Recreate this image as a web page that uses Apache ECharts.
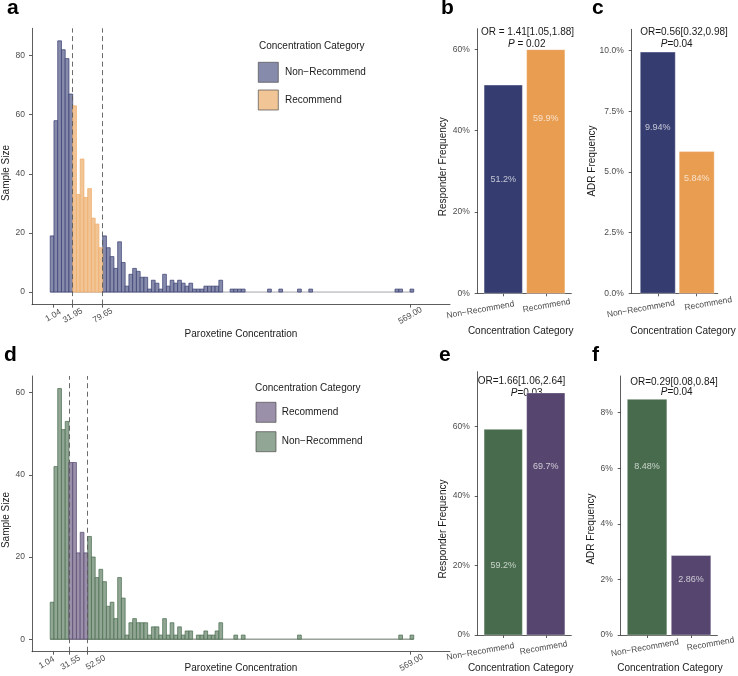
<!DOCTYPE html>
<html><head><meta charset="utf-8">
<script src="https://cdn.jsdelivr.net/npm/echarts@6/dist/echarts.min.js"></script>
<style>html,body{margin:0;padding:0;background:#fff}#c{width:738px;height:676px}</style>
</head><body><div id="c"></div>
<script>
// ---------------- data ----------------
const binStart = -3.825;       // left edge of first histogram bin (concentration units)
const binWidth = 5.9625;       // histogram bin width
const countsA = [
  19,58,85,82,79,67,63,33,45,32,
  35,25,23,15,19,15,12,8,17,10,
  2,6,8,7,5,5,1,4,3,1,
  6,2,4,3,4,3,2,3,1,1,
  1,2,2,2,2,4,0,0,1,1,
  1,1,0,0,0,0,0,0,1,0,
  0,1,0,0,0,0,1,0,0,1,
  0,0,0,0,0,0,0,0,0,0,
  0,0,0,0,0,0,0,0,0,0,
  0,0,1,1,0,0,1
];
const recBinsA = [6, 13];                 // bins in the "Recommend" range
const cutsA = [31.95, 79.65];
const ticksA = [1.04, 31.95, 79.65, 569.00];
const tickLabelPosA = [1.04, 31.95, 79.65, 569.00];
const tickLabelsA = ['1.04', '31.95', '79.65', '569.00'];

const countsD = [
  9,42,61,51,53,43,43,21,26,21,
  25,20,15,17,14,8,9,5,15,10,
  1,4,5,4,4,4,1,3,3,1,
  5,1,4,1,3,1,2,2,0,1,
  1,2,1,1,2,4,0,0,0,1,
  0,1,0,0,0,0,0,0,0,0,
  0,0,0,0,0,0,1,0,0,0,
  0,0,0,0,0,0,0,0,0,0,
  0,0,0,0,0,0,0,0,0,0,
  0,0,0,1,0,0,1
];
const recBinsD = [5, 9];
const cutsD = [26.0, 55.8];               // drawn positions of the two cut lines
const ticksD = [1.04, 26.0, 55.8, 569.00];
const tickLabelPosD = [-9.5, 28.5, 68.5, 571.0]; // where the tick texts sit in the picture
const tickLabelsD = ['1.04', '31.55', '52.50', '569.00'];

const categories = ['Non\u2212Recommend', 'Recommend'];
const respB = [51.2, 59.9];  const respBLabelAt = [27.9, 42.9];
const adrC  = [9.94, 5.84];  const adrCLabelAt  = [6.82, 4.71];
const respE = [59.2, 69.7];  const respELabelAt = [20.0, 48.5];
const adrF  = [8.48, 2.86];  const adrFLabelAt  = [6.08, 2.0];

// ---------------- style ----------------
const FONT = 'Arial, Liberation Sans, sans-serif';
const NAVY = '#353c70', ORANGE = '#e99d51', GREEN = '#476b4c', PURPLE = '#56466f';
const NAVY_F = '#878bab', ORANGE_F = '#f2c597', GREEN_F = '#91a694', PURPLE_F = '#9a90a9';
const AX = '#333333', TL = '#4d4d4d';
const HX_MIN = -32.8, HX_MAX = 632.2;

const chart = echarts.init(document.getElementById('c'));

function histData(counts, range, wantRec) {
  const out = [];
  counts.forEach((c, i) => {
    const isRec = i >= range[0] && i <= range[1];
    if (isRec === wantRec && c > 0) out.push([binStart + i * binWidth, binStart + (i + 1) * binWidth, c]);
  });
  return out;
}
function rectRender(fill, stroke) {
  return function (params, api) {
    const p0 = api.coord([api.value(0), api.value(2)]);
    const p1 = api.coord([api.value(1), 0]);
    return { type: 'rect', shape: { x: p0[0], y: p0[1], width: p1[0] - p0[0], height: p1[1] - p0[1] },
      style: { fill: fill, stroke: stroke, lineWidth: 0.7 } };
  };
}
function barRender(colors) {
  return function (params, api) {
    const x = api.value(0), y = api.value(1);
    const p0 = api.coord([x - 0.45, y]);
    const p1 = api.coord([x + 0.45, 0]);
    return { type: 'rect', shape: { x: p0[0], y: p0[1], width: p1[0] - p0[0], height: p1[1] - p0[1] },
      style: { fill: colors[params.dataIndex], stroke: 'rgba(255,255,255,0.6)', lineWidth: 0.6 } };
  };
}

const grids = [
  { left: 32, top: 28.3, width: 418, height: 276.3 },      // a
  { left: 477.7, top: 28.7, width: 93.6, height: 264.6 },  // b
  { left: 631.7, top: 29.3, width: 86, height: 264 },      // c
  { left: 32, top: 376, width: 418, height: 275.7 },       // d
  { left: 477.7, top: 371.7, width: 93.6, height: 263.3 }, // e
  { left: 620.7, top: 376, width: 97.3, height: 259 }      // f
];

// axis that draws line + ticks only
function histXLine(gi, ticks) {
  return { type: 'value', gridIndex: gi, min: HX_MIN, max: HX_MAX, position: 'bottom',
    axisLine: { show: true, onZero: false, lineStyle: { color: AX, width: 0.8 } },
    axisTick: { show: true, customValues: ticks, length: 3, lineStyle: { color: AX, width: 0.8 } },
    axisLabel: { show: false }, splitLine: { show: false } };
}
// axis that draws a subset of the tick texts (two layers avoid automatic hiding)
function histXText(gi, pos, labels, idx) {
  const lv = idx.map(i => pos[i]);
  return { type: 'value', gridIndex: gi, min: HX_MIN, max: HX_MAX, position: 'bottom',
    axisLine: { show: false }, axisTick: { show: false },
    axisLabel: { customValues: lv, formatter: v => labels[pos.indexOf(v)], rotate: 30, hideOverlap: false,
      align: 'center', verticalAlign: 'middle', margin: 11, fontSize: 8.5, color: TL, fontFamily: FONT },
    splitLine: { show: false } };
}
function histY(gi, min, max, ticks) {
  return { type: 'value', gridIndex: gi, min: min, max: max,
    axisLine: { show: true, onZero: false, lineStyle: { color: AX, width: 0.8 } },
    axisTick: { show: true, customValues: ticks, length: 3, lineStyle: { color: AX, width: 0.8 } },
    axisLabel: { customValues: ticks, margin: 7, fontSize: 8.5, color: TL, fontFamily: FONT },
    splitLine: { show: false } };
}
function catX(gi, min, max, shifts) {
  const pad = s => s < 0 ? [0, -2 * s, 0, 0] : [0, 0, 0, 2 * s];
  return { type: 'value', gridIndex: gi, min: min, max: max,
    axisLine: { show: true, onZero: false, lineStyle: { color: AX, width: 0.8 } },
    axisTick: { show: true, customValues: [1, 2], length: 3, lineStyle: { color: AX, width: 0.8 } },
    axisLabel: { customValues: [1, 2], rotate: 10, align: 'center', verticalAlign: 'top', margin: 8, hideOverlap: false,
      formatter: v => '{s' + (v - 1) + '|' + categories[v - 1] + '}',
      rich: {
        s0: { fontSize: 8.5, color: TL, fontFamily: FONT, padding: pad(shifts[0]) },
        s1: { fontSize: 8.5, color: TL, fontFamily: FONT, padding: pad(shifts[1]) }
      } },
    splitLine: { show: false } };
}
function pctY(gi, max, ticks, fmt) {
  return { type: 'value', gridIndex: gi, min: 0, max: max,
    axisLine: { show: true, lineStyle: { color: AX, width: 0.8 } },
    axisTick: { show: true, customValues: ticks, length: 3, lineStyle: { color: AX, width: 0.8 } },
    axisLabel: { customValues: ticks, formatter: fmt, margin: 8, fontSize: 8.5, color: TL, fontFamily: FONT },
    splitLine: { show: false } };
}

function histSeries(gi, counts, rec, cuts, nonF, nonS, recF, recS, baseColor) {
  return [
    { type: 'line', xAxisIndex: gi, yAxisIndex: gi, data: [[binStart, 0], [binStart + counts.length * binWidth, 0]],
      symbol: 'none', lineStyle: { color: baseColor, width: 0.8 }, silent: true, z: 1,
      markLine: { silent: true, symbol: 'none', label: { show: false },
        lineStyle: { color: '#5a5a5a', type: [5, 3.5], width: 0.9 },
        data: cuts.map(c => ({ xAxis: c })) } },
    { type: 'custom', xAxisIndex: gi, yAxisIndex: gi, renderItem: rectRender(nonF, nonS),
      data: histData(counts, rec, false), encode: { x: [0, 1], y: 2 }, z: 2 },
    { type: 'custom', xAxisIndex: gi, yAxisIndex: gi, renderItem: rectRender(recF, recS),
      data: histData(counts, rec, true), encode: { x: [0, 1], y: 2 }, z: 2 }
  ];
}
function barSeries(gi, vals, labelAt, colors) {
  return [
    { type: 'custom', xAxisIndex: gi, yAxisIndex: gi, renderItem: barRender(colors),
      data: vals.map((v, i) => [i + 1, v]), encode: { x: 0, y: 1 } },
    { type: 'scatter', xAxisIndex: gi, yAxisIndex: gi, symbolSize: 0, silent: true, z: 5,
      data: labelAt.map((v, i) => [i + 1, v]),
      label: { show: true, position: 'inside', formatter: p => vals[p.dataIndex] + '%',
        color: 'rgba(255,255,255,0.88)', fontSize: 9, fontFamily: FONT } }
  ];
}

function txt(x, y, text, o) {
  o = o || {};
  return { type: 'text', x: x, y: y, rotation: o.rot || 0, silent: true,
    style: { text: text, fill: o.color || '#1a1a1a', fontSize: o.size || 10, fontWeight: o.weight || 'normal',
      fontFamily: FONT, textAlign: o.align || 'center', textVerticalAlign: o.va || 'middle' } };
}
// annotation: plain part + optional italic "P"
function note(x, y, italicPart, rest) {
  const rich = {
    n: { fontSize: 10, fontFamily: FONT, fill: '#1a1a1a', fontStyle: 'normal', fontWeight: 'normal' },
    i: { fontSize: 10, fontFamily: FONT, fill: '#1a1a1a', fontStyle: 'italic', fontWeight: 'normal' }
  };
  const t = (italicPart ? '{i|' + italicPart + '}' : '') + '{n|' + rest + '}';
  return { type: 'text', x: x, y: y, silent: true,
    style: { text: t, textAlign: 'center', textVerticalAlign: 'middle', fontSize: 10, fontFamily: FONT, fill: '#1a1a1a', rich: rich } };
}
function key(x, y, fill) {
  return { type: 'rect', shape: { x: x, y: y, width: 20, height: 20 }, silent: true,
    style: { fill: fill, stroke: '#4d4d4d', lineWidth: 0.7 } };
}

const graphics = [
  // panel letters
  txt(7, 19, 'a', { size: 21, weight: 'bold', align: 'left', va: 'bottom', color: '#000' }),
  txt(441, 19, 'b', { size: 21, weight: 'bold', align: 'left', va: 'bottom', color: '#000' }),
  txt(592, 19, 'c', { size: 21, weight: 'bold', align: 'left', va: 'bottom', color: '#000' }),
  txt(4, 366, 'd', { size: 21, weight: 'bold', align: 'left', va: 'bottom', color: '#000' }),
  txt(439, 366, 'e', { size: 21, weight: 'bold', align: 'left', va: 'bottom', color: '#000' }),
  txt(592, 366, 'f', { size: 21, weight: 'bold', align: 'left', va: 'bottom', color: '#000' }),
  // axis titles
  txt(6, 173, 'Sample Size', { rot: Math.PI / 2 }),
  txt(6, 520, 'Sample Size', { rot: Math.PI / 2 }),
  txt(241, 334, 'Paroxetine Concentration'),
  txt(241, 668, 'Paroxetine Concentration'),
  txt(443, 166.7, 'Responder Frequency', { rot: Math.PI / 2 }),
  txt(592.5, 161, 'ADR Frequency', { rot: Math.PI / 2 }),
  txt(443, 529, 'Responder Frequency', { rot: Math.PI / 2 }),
  txt(591.7, 529, 'ADR Frequency', { rot: Math.PI / 2 }),
  txt(520.7, 331.7, 'Concentration Category'),
  txt(683, 331.7, 'Concentration Category'),
  txt(520.7, 668.3, 'Concentration Category'),
  txt(670, 668.3, 'Concentration Category'),
  // annotations
  note(527.5, 32.3, '', 'OR = 1.41[1.05,1.88]'),
  note(526.7, 44, 'P', ' = 0.02'),
  note(684, 32.3, '', 'OR=0.56[0.32,0.98]'),
  note(676.7, 44, 'P', '=0.04'),
  note(521.5, 381.7, '', 'OR=1.66[1.06,2.64]'),
  note(526.7, 393.3, 'P', '=0.03'),
  note(674, 382.7, '', 'OR=0.29[0.08,0.84]'),
  note(676.7, 392.7, 'P', '=0.04'),
  // legend a
  txt(259, 46.7, 'Concentration Category', { align: 'left' }),
  key(258.3, 62.3, NAVY_F), txt(285, 72.3, 'Non\u2212Recommend', { align: 'left' }),
  key(258.3, 90, ORANGE_F), txt(285, 100, 'Recommend', { align: 'left' }),
  // legend d
  txt(255, 388.3, 'Concentration Category', { align: 'left' }),
  key(256, 402.3, PURPLE_F), txt(281.7, 412.3, 'Recommend', { align: 'left' }),
  key(256, 431.7, GREEN_F), txt(281.7, 441.7, 'Non\u2212Recommend', { align: 'left' })
];

const option = {
  animation: false,
  backgroundColor: '#ffffff',
  grid: grids,
  xAxis: [
    histXLine(0, ticksA),
    catX(1, 0.4, 2.6, [-24, 0]),
    catX(2, 0.33, 2.54, [-18, 11]),
    histXLine(3, ticksD),
    catX(4, 0.4, 2.6, [-24, -3]),
    catX(5, 0.4, 2.6, [-3, 19]),
    histXText(0, tickLabelPosA, tickLabelsA, [0, 2]),
    histXText(0, tickLabelPosA, tickLabelsA, [1, 3]),
    histXText(3, tickLabelPosD, tickLabelsD, [0, 2]),
    histXText(3, tickLabelPosD, tickLabelsD, [1, 3])
  ],
  yAxis: [
    histY(0, -4.25, 89.25, [0, 20, 40, 60, 80]),
    pctY(1, 65.06, [0, 20, 40, 60], v => v + '%'),
    pctY(2, 10.88, [0, 2.5, 5, 7.5, 10], v => v.toFixed(1) + '%'),
    histY(3, -3.05, 64.05, [0, 20, 40, 60]),
    pctY(4, 75.8, [0, 20, 40, 60], v => v + '%'),
    pctY(5, 9.32, [0, 2, 4, 6, 8], v => v + '%')
  ],
  series: [].concat(
    histSeries(0, countsA, recBinsA, cutsA, NAVY_F, NAVY, ORANGE_F, '#eeaa66', '#8c8c99'),
    barSeries(1, respB, respBLabelAt, [NAVY, ORANGE]),
    barSeries(2, adrC, adrCLabelAt, [NAVY, ORANGE]),
    histSeries(3, countsD, recBinsD, cutsD, GREEN_F, GREEN, PURPLE_F, PURPLE, '#3f4f40'),
    barSeries(4, respE, respELabelAt, [GREEN, PURPLE]),
    barSeries(5, adrF, adrFLabelAt, [GREEN, PURPLE])
  ),
  graphic: graphics
};
chart.setOption(option);
</script>
</body></html>
